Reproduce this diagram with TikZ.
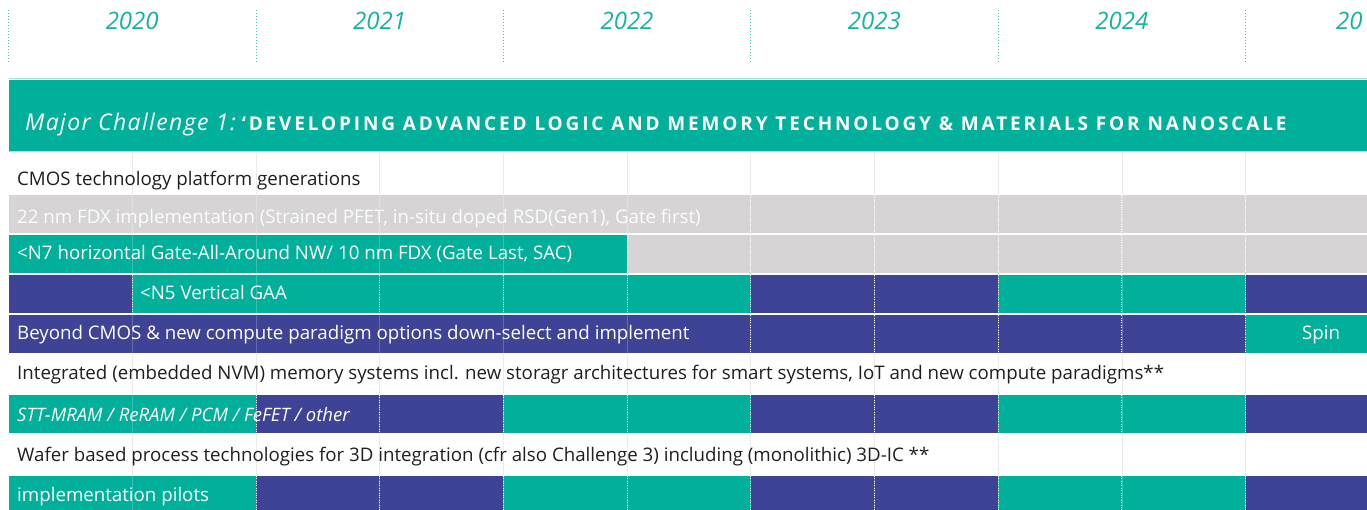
\documentclass[tikz,border=0pt]{standalone}
\usepackage{fontspec}
\setmainfont{Open Sans}
\definecolor{tealc}{RGB}{0,176,155}
\definecolor{purp}{RGB}{62,67,150}
\definecolor{grayc}{RGB}{214,212,213}
\definecolor{yeart}{RGB}{24,178,160}
\definecolor{lteal}{RGB}{170,226,218}
\newcommand\cellfill[5]{\fill[#1] ({8.5+123.7*#2},#4) rectangle ({8.5+123.7*#3},#5);}
\newcommand\dotl[3]{\draw[dotw] ({8.5+123.7*#1},#2) -- ({8.5+123.7*#1},#3);}
\tikzset{
  dotw/.style={white, line width=0.7pt, dash pattern=on 0.8pt off 1.6pt},
  yeardot/.style={yeart!80, line width=0.8pt, dash pattern=on 1.2pt off 1.8pt},
  yearlabel/.style={anchor=base, text=yeart, inner sep=0pt, font=\fontsize{24}{24}\selectfont\itshape},
  celltext/.style={anchor=base west, text=white, inner sep=0pt, font=\fontsize{18.7}{18.7}\selectfont},
  plaintext/.style={anchor=base west, text=black!88, inner sep=0pt, font=\fontsize{18.7}{18.7}\selectfont},
}
\begin{document}
\begin{tikzpicture}[x=1pt,y=-1pt]
\useasboundingbox (0,0) rectangle (1367,510);
\clip (0,0) rectangle (1367,510);
% year header
\foreach \i in {0,...,5} {
  \draw[yeardot] ({8.5+247.4*\i},10) -- ({8.5+247.4*\i},63);
}
\node[yearlabel] (y2020) at (132.2,29.3) {2020};
\node[yearlabel] (y2021) at (379.6,29.3) {2021};
\node[yearlabel] (y2022) at (627.0,29.3) {2022};
\node[yearlabel] (y2023) at (874.4,29.3) {2023};
\node[yearlabel] (y2024) at (1121.8,29.3) {2024};
\node[yearlabel, anchor=base west] (y2025) at (1336,29.3) {20};
% band
\draw[lteal, line width=1pt] (8.5,79) -- (1367,79);
\fill[tealc] (8.5,80) rectangle (1367,151.5);
\draw[lteal, line width=1pt] (8.5,152) -- (1367,152);
\node[anchor=base west, inner sep=0pt, text=white] (hdr) at (25,131)
  {{\fontsize{23}{23}\selectfont\itshape\addfontfeatures{LetterSpace=6}Major Challenge 1:}\hspace{6pt}{\fontsize{19}{19}\selectfont\bfseries\addfontfeatures{LetterSpace=15}‘DEVELOPING ADVANCED LOGIC AND MEMORY TECHNOLOGY \& MATERIALS FOR NANOSCALE}};
% faint grid lines under
\foreach \k in {1,...,10} {
  \draw[black!8, line width=0.6pt] ({8.5+123.7*\k},153) -- ({8.5+123.7*\k},510);
}
% row 1
\cellfill{grayc}{0}{11}{195}{232.7}
% row 2
\cellfill{tealc}{0}{5}{235.3}{272.7}
\cellfill{grayc}{5}{11}{235.3}{272.7}
% row 3
\cellfill{purp}{0}{1}{275.3}{312.7}
\cellfill{tealc}{1}{6}{275.3}{312.7}
\cellfill{purp}{6}{8}{275.3}{312.7}
\cellfill{tealc}{8}{10}{275.3}{312.7}
\cellfill{purp}{10}{11}{275.3}{312.7}
% row 4
\cellfill{purp}{0}{10}{315.3}{352.7}
\cellfill{tealc}{10}{11}{315.3}{352.7}
% row 5 and 6
\foreach \t/\b in {395/432.7, 475.7/513.4} {
  \cellfill{tealc}{0}{2}{\t}{\b}
  \cellfill{purp}{2}{4}{\t}{\b}
  \cellfill{tealc}{4}{6}{\t}{\b}
  \cellfill{purp}{6}{8}{\t}{\b}
  \cellfill{tealc}{8}{10}{\t}{\b}
  \cellfill{purp}{10}{11}{\t}{\b}
}
% faint lines over cells
\foreach \t/\b in {195/232.7, 235.3/272.7, 275.3/312.7, 315.3/352.7, 395/432.7, 475.7/513.4} {
  \foreach \k in {1,...,10} {
    \draw[white, opacity=0.22, line width=0.6pt] ({8.5+123.7*\k},\t) -- ({8.5+123.7*\k},\b);
  }
}
% dotted separators
\foreach \k in {6,...,10} {\dotl{\k}{195}{232.7}}
\foreach \k in {5,...,10} {\dotl{\k}{235.3}{272.7}}
\foreach \k in {1,3,4,5,6,7,8,9,10} {\dotl{\k}{275.3}{312.7}}
\foreach \k in {6,...,10} {\dotl{\k}{315.3}{352.7}}
\foreach \k in {2,...,10} {\dotl{\k}{395}{432.7}}
\foreach \k in {2,...,10} {\dotl{\k}{475.7}{513.4}}
% texts
\node[plaintext] (cmos) at (17,186) {CMOS technology platform generations};
\node[celltext, text=white!96!grayc] (r1) at (17,224) {22 nm FDX implementation (Strained PFET, in-situ doped RSD(Gen1), Gate first)};
\node[celltext] (r2) at (17,260) {<N7 horizontal Gate-All-Around NW/ 10 nm FDX (Gate Last, SAC)};
\node[celltext] (r3) at (140,300) {<N5 Vertical GAA};
\node[celltext] (r4) at (17,339.7) {Beyond CMOS \& new compute paradigm options down-select and implement};
\node[celltext, anchor=base] (spin) at (1321,339.7) {Spin};
\node[plaintext] (nvm) at (17,379) {Integrated (embedded NVM) memory systems incl. new storagr architectures for smart systems, IoT and new compute paradigms**};
\node[celltext, font=\fontsize{18.5}{18.5}\selectfont\itshape] (r5) at (17,421) {STT-MRAM / ReRAM / PCM / FeFET / other};
\node[plaintext] (wafer) at (17,461) {Wafer based process technologies for 3D integration (cfr also Challenge 3) including (monolithic) 3D-IC **};
\node[celltext] (r6) at (17,501.7) {implementation pilots};
\end{tikzpicture}
\end{document}
